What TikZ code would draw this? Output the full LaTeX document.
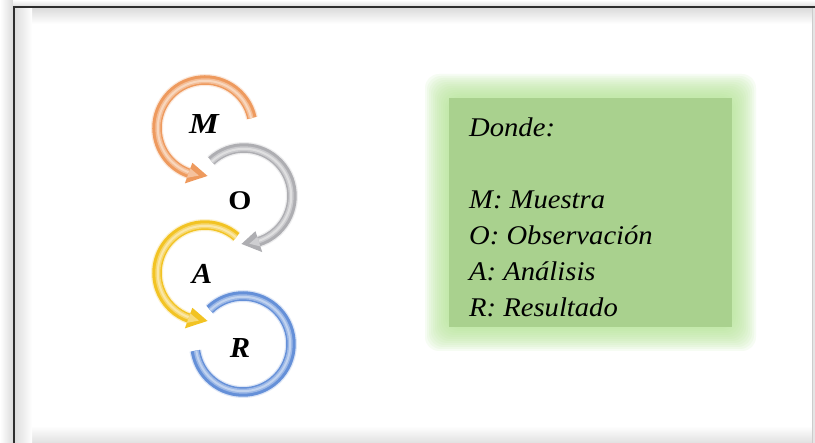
\documentclass[tikz,border=0pt]{standalone}
\usepackage{fontspec}
\setmainfont{Liberation Serif}
\usetikzlibrary{calc}
\definecolor{orgbase}{HTML}{EE9A5E}
\definecolor{graybase}{HTML}{AEAEB2}
\definecolor{yelbase}{HTML}{F2C323}
\definecolor{bluebase}{HTML}{6590D8}
\definecolor{boxgreen}{HTML}{A9D18E}
\definecolor{glowgreen}{HTML}{B6E596}
\definecolor{framedark}{HTML}{2E2E2E}
% arc: cx, cy, r, start, end, base
\newcommand\myringarc[6]{%
  \pgfmathsetmacro\rin{#3-0.8}%
  \draw[#6,line width=12,opacity=.22] ($(#1,#2)+(#4:#3)$) arc[start angle=#4,end angle=#5,radius=#3];
  \draw[#6,line width=9.5] ($(#1,#2)+(#4:#3)$) arc[start angle=#4,end angle=#5,radius=#3];
  \draw[#6!65!white,line width=5] ($(#1,#2)+(#4:\rin)$) arc[start angle=#4,end angle=#5,radius=\rin];
  \draw[#6!40!white,line width=2] ($(#1,#2)+(#4:\rin)$) arc[start angle=#4,end angle=#5,radius=\rin];
}
% head: cx, cy, r, base angle, tip angle, base
\newcommand\myringhead[6]{%
  \pgfmathsetmacro\rout{#3+11}%
  \pgfmathsetmacro\rinn{#3-11}%
  \pgfmathsetmacro\routb{#3+5}%
  \pgfmathsetmacro\rinnb{#3-5}%
  \pgfmathsetmacro\amid{#4+(#5-#4)*0.55}%
  \fill[#6] ($(#1,#2)+(#4:\rout)$) -- ($(#1,#2)+(#5:#3)$) -- ($(#1,#2)+(#4:\rinn)$) -- cycle;
  \fill[#6!60!white] ($(#1,#2)+(#4:\routb)$) -- ($(#1,#2)+(\amid:#3)$) -- ($(#1,#2)+(#4:\rinnb)$) -- cycle;
}
\tikzset{
  boxtext/.style={anchor=base west,inner sep=0,font=\fontsize{27}{30}\selectfont\itshape},
  ringletter/.style={inner sep=0,font=\fontsize{29}{30}\selectfont\bfseries\itshape},
}
\begin{document}
\begin{tikzpicture}[x=1pt,y=1pt]
\useasboundingbox (0,0) rectangle (815,-443);
\fill[white] (0,0) rectangle (815,-443);
% frame surroundings
\shade[left color=white,right color=black!14] (0,0) rectangle (13,-443);
\shade[top color=white,bottom color=black!14] (13,0) rectangle (815,-7);
\fill[black!10] (812,-8) rectangle (815,-443);
\shade[top color=white,bottom color=black!12] (14,-426) rectangle (812,-443);
% inner shadow
\shade[top color=black!13,bottom color=white] (15,-9) rectangle (812,-24);
\shade[left color=black!13,right color=white] (15,-24) rectangle (32,-443);
\shade[left color=black!13,right color=white!0] (15,-9) rectangle (32,-24);
\draw[black!20,line width=1] (812,-8) -- (812,-443);
\draw[framedark,line width=2] (14,-443) -- (14,-7.5) -- (815,-7.5);

% ring arrows
\myringarc{205}{-128}{48}{12}{252}{orgbase}
\myringhead{205}{-128}{48}{250}{273}{orgbase}
\myringarc{244}{-196}{48}{133}{-74}{graybase}
\myringhead{244}{-196}{48}{-72}{-93}{graybase}
\myringarc{205}{-273}{48}{49}{252}{yelbase}
\myringhead{205}{-273}{48}{250}{273}{yelbase}
\myringarc{243}{-344}{48}{134}{-172}{bluebase}

\node[ringletter] (m) at (204,-124) {\scalebox{1.15}[1]{M}};
\node[ringletter,font=\fontsize{27}{30}\selectfont\bfseries] (o) at (240,-201) {\scalebox{1.1}[1]{O}};
\node[ringletter] (a) at (202,-274) {\scalebox{1.05}[1]{A}};
\node[ringletter] (r) at (240,-348) {\scalebox{1.05}[1]{R}};

% green glow box
\foreach \d in {24,22,...,2}{
  \fill[glowgreen,opacity=.11,rounded corners=14] ({449-\d},{-98+\d}) rectangle ({732+\d},{-327-\d});
}
\node[fill=boxgreen,inner sep=0,minimum width=283,minimum height=229,anchor=north west] (box) at (449,-98) {};
\node[boxtext] (donde) at (469,-137) {\scalebox{1.06}[1]{Donde:}};
\node[boxtext] (lm) at (469,-209) {\scalebox{1.06}[1]{M: Muestra}};
\node[boxtext] (lo) at (469,-245) {\scalebox{1.06}[1]{O: Observación}};
\node[boxtext] (la) at (469,-281) {\scalebox{1.06}[1]{A: Análisis}};
\node[boxtext] (lr) at (469,-317) {\scalebox{1.06}[1]{R: Resultado}};
\end{tikzpicture}
\end{document}
